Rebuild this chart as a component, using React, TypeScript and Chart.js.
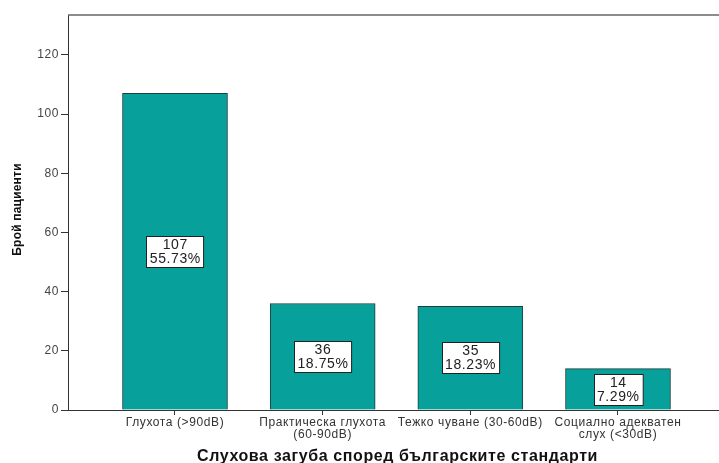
import React, { useEffect, useRef } from "react";
import { Chart, registerables } from "chart.js";

Chart.register(...registerables);

const categories: string[][] = [
  ["Глухота (>90dB)"],
  ["Практическа глухота", "(60-90dB)"],
  ["Тежко чуване (30-60dB)"],
  ["Социално адекватен", "слух (<30dB)"],
];
const counts: number[] = [107, 36, 35, 14];
const percentLabels: string[] = ["55.73%", "18.75%", "18.23%", "7.29%"];
const yTickValues: number[] = [0, 20, 40, 60, 80, 100, 120];
const yTitle = "Брой пациенти";
const xTitle = "Слухова загуба според българските стандарти";

const FONT = "'Liberation Sans', Arial, sans-serif";

const spacingPlugin = {
  id: "spacing",
  beforeDraw(chart: any) {
    (chart.ctx as any).letterSpacing = "0.6px";
  },
};

const boxLabelPlugin = {
  id: "boxLabels",
  afterDatasetsDraw(chart: any) {
    const ctx = chart.ctx;
    const meta = chart.getDatasetMeta(0);
    ctx.save();
    ctx.letterSpacing = "0.6px";
    ctx.font = `14px ${FONT}`;
    meta.data.forEach((bar: any, i: number) => {
      const lines = [String(counts[i]), percentLabels[i]];
      const w = Math.max(...lines.map((l) => ctx.measureText(l).width)) + 6;
      const lh = 14;
      const h = lh * lines.length + 3;
      const cx = bar.x;
      const cy = (bar.y + bar.base) / 2;
      const x0 = Math.round(cx - w / 2) + 0.5;
      const y0 = Math.round(cy - h / 2) + 0.5;
      ctx.fillStyle = "#ffffff";
      ctx.fillRect(x0, y0, w, h);
      ctx.strokeStyle = "#222";
      ctx.lineWidth = 1;
      ctx.strokeRect(x0, y0, w, h);
      ctx.fillStyle = "#222";
      ctx.textAlign = "center";
      ctx.textBaseline = "middle";
      lines.forEach((l, k) => {
        ctx.fillText(l, cx + 0.3, y0 + 2 + lh / 2 + k * lh);
      });
    });
    ctx.restore();
  },
};

const framePlugin = {
  id: "frame",
  afterDraw(chart: any) {
    const { ctx, chartArea } = chart;
    ctx.save();
    ctx.strokeStyle = "#666";
    ctx.lineWidth = 1.5;
    ctx.beginPath();
    ctx.moveTo(chartArea.left, chartArea.top);
    ctx.lineTo(chart.width, chartArea.top);
    ctx.stroke();

    // axis titles
    ctx.fillStyle = "#111";
    ctx.textAlign = "center";
    ctx.textBaseline = "middle";
    ctx.letterSpacing = "0.6px";
    ctx.font = `bold 16px ${FONT}`;
    ctx.fillText(xTitle, (chartArea.left + chart.width) / 2 + 4, 457);

    ctx.letterSpacing = "0.2px";
    ctx.font = `bold 12px ${FONT}`;
    ctx.translate(18, (chartArea.top + chartArea.bottom) / 2 - 3);
    ctx.rotate(-Math.PI / 2);
    ctx.fillText(yTitle, 0, 0);
    ctx.restore();
  },
};

export default function App() {
  const ref = useRef<HTMLCanvasElement | null>(null);
  useEffect(() => {
    if (!ref.current) return;
    const chart = new Chart(ref.current, {
      type: "bar",
      data: {
        datasets: [
          {
            data: counts.map((v, i) => ({ x: i, y: v })),
            backgroundColor: "#07a09a",
            borderColor: "#1e3e3c",
            borderWidth: 1,
            barThickness: 105,
          } as any,
        ],
      },
      options: {
        animation: false,
        responsive: false,
        layout: { padding: { top: 15, left: 0, right: 0, bottom: 0 } },
        plugins: {
          legend: { display: false },
          tooltip: { enabled: false },
        },
        scales: {
          x: {
            type: "linear",
            offset: false,
            min: -0.7246,
            max: 3.684,
            afterFit: (s: any) => {
              s.height = 53;
            },
            afterBuildTicks: (s: any) => {
              s.ticks = categories.map((_, i) => ({ value: i }));
            },
            ticks: {
              autoSkip: false,
              maxRotation: 0,
              padding: 2,
              color: "#333",
              font: { family: FONT, size: 12, lineHeight: 1.0 },
              callback: (v: any) => categories[Math.round(Number(v))] ?? "",
            },
            grid: {
              offset: false,
              drawOnChartArea: false,
              drawTicks: true,
              tickLength: 5,
              color: "#333",
            },
            border: { display: true, color: "#333", width: 1 },
            title: { display: false },
          },
          y: {
            type: "linear",
            min: 0,
            max: 133.5,
            afterFit: (s: any) => {
              s.width = 68;
            },
            afterBuildTicks: (s: any) => {
              s.ticks = yTickValues.map((v) => ({ value: v }));
            },
            ticks: {
              padding: 2,
              color: "#444",
              font: { family: FONT, size: 12 },
            },
            grid: {
              drawOnChartArea: false,
              drawTicks: true,
              tickLength: 7,
              color: "#333",
            },
            border: { display: true, color: "#333", width: 1 },
            title: { display: false },
          },
        },
      } as any,
      plugins: [spacingPlugin, boxLabelPlugin, framePlugin],
    });
    return () => chart.destroy();
  }, []);
  return (
    <div style={{ position: "fixed", left: 0, top: 0, width: 719, height: 463, background: "#fff" }}>
      <canvas ref={ref} width={719} height={463} style={{ display: "block" }} />
    </div>
  );
}
